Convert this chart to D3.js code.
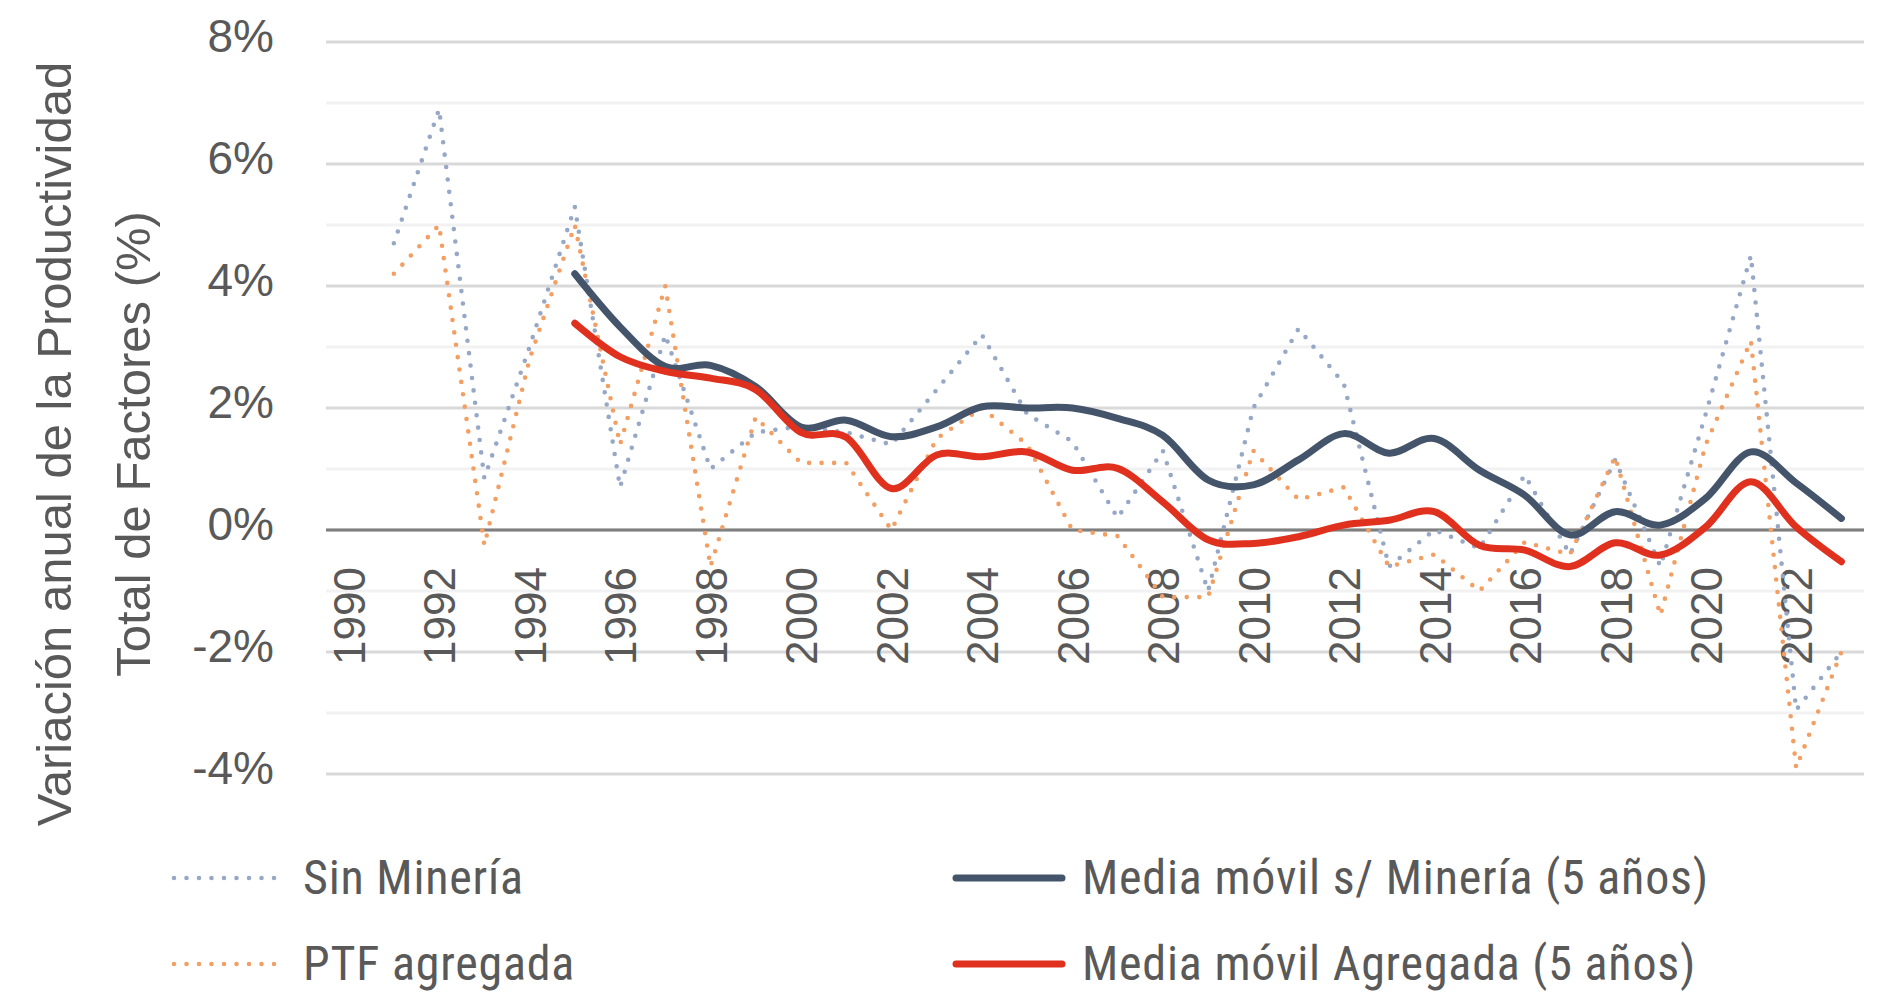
<!DOCTYPE html>
<html>
<head>
<meta charset="utf-8">
<script src="https://cdn.jsdelivr.net/npm/d3@7"></script>
<style>
  body { margin: 0; background: #fff; }
  svg { display: block; }
</style>
</head>
<body>
<script>
// categories: one point per year, 1990 to 2023
var years = d3.range(1990, 2024);
var labelYears = d3.range(1990, 2024, 2);

// annual TFP change, % (1990 has no value)
var sinMineria = [null, 4.7, 6.9, 0.85, 3.0, 5.3, 0.7, 3.2, 1.0, 1.6, 1.7, 1.6, 1.4, 2.3, 3.2, 1.9, 1.45, 0.2, 1.3, -1.0,
  2.0, 3.3, 2.4, -0.6, 0.0, -0.3, 0.9, -0.4, 1.15, -0.6, 1.9, 4.5, -2.95, -2.0];
var ptfAgregada = [null, 4.2, 5.0, -0.25, 2.8, 5.0, 1.4, 4.0, -0.6, 1.85, 1.1, 1.1, 0.0, 1.5, 2.0, 1.4, 0.0, -0.1, -1.1, -1.1,
  1.3, 0.5, 0.7, -0.6, -0.4, -1.0, -0.2, -0.4, 1.2, -1.4, 1.4, 3.1, -3.9, -2.0];

// 5 year moving averages, from 1995 on
var mmYears = d3.range(1995, 2024);
var mmSinMineria = [4.2, 3.33, 2.68, 2.7, 2.35, 1.69, 1.8, 1.53, 1.69, 2.02, 2.0, 2.0, 1.83, 1.55, 0.82, 0.74, 1.15, 1.58,
  1.26, 1.5, 0.98, 0.57, -0.08, 0.3, 0.08, 0.52, 1.28, 0.77, 0.19];
var mmAgregada = [3.39, 2.84, 2.6, 2.49, 2.3, 1.6, 1.52, 0.68, 1.23, 1.2, 1.28, 0.98, 1.01, 0.46, -0.16, -0.22, -0.11, 0.08,
  0.16, 0.3, -0.25, -0.33, -0.6, -0.21, -0.41, 0.05, 0.79, 0.05, -0.52];

var yTicks = [-4, -2, 0, 2, 4, 6, 8];
var yGrid = d3.range(-4, 9);

var legendLabels = ["Sin Minería", "PTF agregada", "Media móvil s/ Minería (5 años)", "Media móvil Agregada (5 años)"];

var width = 1878, height = 996;
var textColor = "#595959";
var narrowFont = "'Liberation Sans Narrow', 'Roboto Condensed', 'Liberation Sans', sans-serif";
var plainFont = "'Liberation Sans', Arial, sans-serif";

var svg = d3.select("body").append("svg")
  .attr("width", width)
  .attr("height", height);

var x = d3.scalePoint()
  .domain(years)
  .range([326, 1864])
  .padding(0.5);

var y = d3.scaleLinear()
  .domain([-4, 8])
  .range([774, 42]);

//gridlines, darker on even values
svg.append("g").selectAll("line")
  .data(yGrid)
  .enter().append("line")
  .attr("x1", 326).attr("x2", 1864)
  .attr("y1", function(d) { return y(d); })
  .attr("y2", function(d) { return y(d); })
  .attr("stroke", function(d) { return d % 2 === 0 ? "#d9d9d9" : "#f2f2f2"; })
  .attr("stroke-width", 3);

svg.append("line")
  .attr("x1", 326).attr("x2", 1864)
  .attr("y1", y(0)).attr("y2", y(0))
  .attr("stroke", "#7f7f7f")
  .attr("stroke-width", 3);

//y axis
var yAxis = svg.append("g")
  .attr("transform", "translate(284,0)")
  .call(d3.axisLeft(y).tickValues(yTicks).tickSize(0).tickPadding(10)
    .tickFormat(function(d) { return d + "%"; }));
yAxis.select(".domain").remove();
yAxis.selectAll("text")
  .attr("dy", "0.2em")
  .attr("fill", textColor)
  .style("font-family", plainFont)
  .style("font-size", "46px");

//x axis, labels every two years rotated
var xAxis = svg.append("g")
  .attr("transform", "translate(0," + y(0) + ")")
  .call(d3.axisBottom(x).tickValues(labelYears).tickSize(0));
xAxis.select(".domain").remove();
xAxis.selectAll("text")
  .attr("transform", "rotate(-90)")
  .attr("x", -37)
  .attr("y", 0)
  .attr("dy", "0.36em")
  .attr("text-anchor", "end")
  .attr("fill", textColor)
  .style("font-family", plainFont)
  .style("font-size", "44px");

//axis title, two lines
var title = svg.append("text")
  .attr("transform", "translate(54,444) rotate(-90)")
  .attr("text-anchor", "middle")
  .attr("fill", textColor)
  .style("font-family", plainFont)
  .style("font-size", "49px");
title.append("tspan").attr("x", 0).attr("dy", "0.35em").text("Variación anual de la Productividad");
title.append("tspan").attr("x", 0).attr("dy", "1.6em").text("Total de Factores (%)");

var straight = d3.line()
  .defined(function(d) { return d[1] !== null; })
  .x(function(d) { return x(d[0]); })
  .y(function(d) { return y(d[1]); });

var smooth = d3.line()
  .x(function(d) { return x(d[0]); })
  .y(function(d) { return y(d[1]); })
  .curve(d3.curveCatmullRom.alpha(0));

var dotted = [
  { values: sinMineria, colour: "#97a8c6" },
  { values: ptfAgregada, colour: "#f39f63" }
];
var solid = [
  { values: mmSinMineria, colour: "#44546a" },
  { values: mmAgregada, colour: "#e0301e" }
];

svg.append("g").selectAll("path")
  .data(dotted)
  .enter().append("path")
  .attr("d", function(s) { return straight(d3.zip(years, s.values)); })
  .attr("fill", "none")
  .attr("stroke", function(s) { return s.colour; })
  .attr("stroke-width", 4.6)
  .attr("stroke-linecap", "round")
  .attr("stroke-dasharray", "0 12.5");

svg.append("g").selectAll("path")
  .data(solid)
  .enter().append("path")
  .attr("d", function(s) { return smooth(d3.zip(mmYears, s.values)); })
  .attr("fill", "none")
  .attr("stroke", function(s) { return s.colour; })
  .attr("stroke-width", 7)
  .attr("stroke-linecap", "round")
  .attr("stroke-linejoin", "round");

//legend: two columns, two rows
var legendItems = [
  { label: legendLabels[0], colour: dotted[0].colour, dots: true, x: 174, y: 878 },
  { label: legendLabels[1], colour: dotted[1].colour, dots: true, x: 174, y: 964 },
  { label: legendLabels[2], colour: solid[0].colour, dots: false, x: 952, y: 878 },
  { label: legendLabels[3], colour: solid[1].colour, dots: false, x: 952, y: 964 }
];

var legend = svg.append("g").selectAll("g")
  .data(legendItems)
  .enter().append("g")
  .attr("transform", function(d) { return "translate(" + d.x + "," + d.y + ")"; });

legend.append("line")
  .attr("x1", function(d) { return d.dots ? 0 : 4; })
  .attr("x2", function(d) { return d.dots ? 105 : 110; })
  .attr("stroke", function(d) { return d.colour; })
  .attr("stroke-width", function(d) { return d.dots ? 4.6 : 7; })
  .attr("stroke-linecap", "round")
  .attr("stroke-dasharray", function(d) { return d.dots ? "0 12.5" : null; });

legend.append("text")
  .attr("x", function(d) { return d.dots ? 129 : 130; })
  .attr("dy", "0.34em")
  .attr("fill", textColor)
  .style("font-family", narrowFont)
  .style("font-size", "48px")
  .style("letter-spacing", "0.8px")
  .text(function(d) { return d.label; });
</script>
</body>
</html>
